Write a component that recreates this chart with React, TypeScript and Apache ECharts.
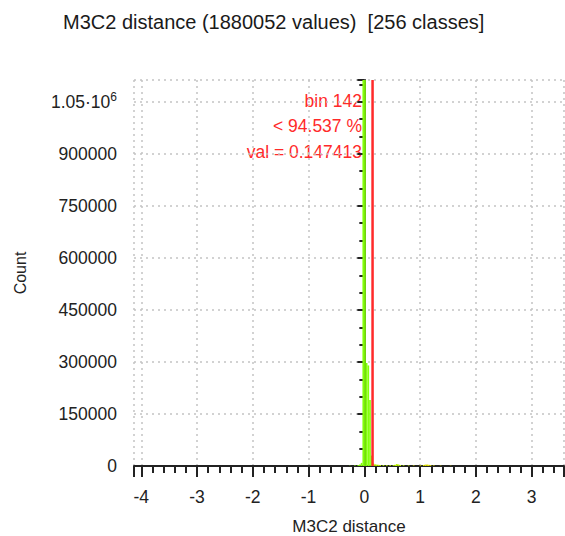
import React, { useEffect, useRef } from "react";
import * as echarts from "echarts";

// Histogram definition
const titleText = "M3C2 distance (1880052 values)  [256 classes]";
const xAxisName = "M3C2 distance";
const yAxisName = "Count";
const histMin = -4.13;
const histMax = 3.58;
const binCount = 256;
const binWidth = (histMax - histMin) / binCount;
const yMax = 1113000;

// Non-empty bins (bin index, count)
const binIndices = [128, 131, 133, 134, 135, 136, 137, 138, 139, 140, 141, 142, 143, 144, 145, 146, 148, 150, 152, 154, 155, 156, 157, 158, 160, 163, 166, 170, 172, 173, 174, 175, 176, 178, 182, 188];
const binCounts = [800, 1200, 2500, 4000, 9000, 1120000, 1180000, 297000, 290000, 190000, 30000, 7000, 5000, 4000, 3500, 3000, 2500, 2200, 2000, 2500, 3500, 5500, 4500, 3000, 2000, 1500, 1500, 2000, 3000, 4000, 4500, 3500, 2500, 1500, 1000, 800];

// Threshold marker
const thresholdBin = 142;
const thresholdPercent = "94.537";
const thresholdVal = 0.147413;

const FONT = "Liberation Sans";

export default function App() {
  const ref = useRef<HTMLDivElement>(null);
  useEffect(() => {
    document.body.style.margin = "0";
    const chart = echarts.init(ref.current!, null, { renderer: "svg" });
    const histData = binIndices.map((b, i) => [histMin + b * binWidth, histMin + (b + 1) * binWidth, binCounts[i], b]);
    chart.setOption({
      animation: false,
      backgroundColor: "#ffffff",
      title: {
        text: titleText,
        left: 58,
        top: 7,
        textStyle: { fontFamily: FONT, fontSize: 20, fontWeight: "normal", color: "#1a1a1a" },
      },
      grid: { left: 134, top: 80, right: 1, bottom: 70, outerBoundsMode: "none", containLabel: false },
      xAxis: {
        type: "value",
        min: histMin,
        max: histMax,
        splitNumber: 8,
        name: xAxisName,
        nameLocation: "middle",
        nameGap: 52,
        nameTextStyle: { fontFamily: FONT, fontSize: 17, color: "#222" },
        axisLine: { show: true, onZero: false, lineStyle: { color: "#222", width: 2 } },
        axisTick: { show: true, length: 11, lineStyle: { color: "#222", width: 2 } },
        minorTick: { show: true, splitNumber: 5, length: 7, lineStyle: { color: "#222", width: 2 } },
        axisLabel: {
          showMinLabel: false,
          showMaxLabel: false,
          margin: 22,
          fontFamily: FONT,
          fontSize: 17.5,
          color: "#222",
        },
        splitLine: { show: true, lineStyle: { color: "#c4c4c4", type: [2, 4], width: 1.5 } },
      },
      yAxis: {
        type: "value",
        min: 0,
        max: yMax,
        interval: 150000,
        name: yAxisName,
        nameLocation: "middle",
        nameGap: 106,
        nameRotate: 90,
        nameTextStyle: { fontFamily: FONT, fontSize: 16, color: "#222" },
        axisLine: { show: true, lineStyle: { color: "#222", width: 2 } },
        axisTick: { show: true, length: 7, lineStyle: { color: "#222", width: 2 } },
        minorTick: { show: true, splitNumber: 3, length: 5, lineStyle: { color: "#222", width: 2 } },
        axisLabel: {
          showMaxLabel: false,
          margin: 17,
          fontFamily: FONT,
          fontSize: 17.5,
          color: "#222",
          formatter: (v: number) => (v === 1050000 ? "{a|1.05·10}{sup|6}" : String(v)),
          rich: {
            a: { fontFamily: FONT, fontSize: 17.5, color: "#222" },
            sup: { fontFamily: FONT, fontSize: 12, color: "#222", padding: [0, 0, 9, 0] },
          },
        },
        splitLine: { show: true, lineStyle: { color: "#c4c4c4", type: [2, 4], width: 1.5 } },
      },
      graphic: [
        { type: "text", x: 362, y: 101, style: { text: `bin ${thresholdBin}`, fill: "#ff2a2a", font: `17.5px "${FONT}"`, textAlign: "right", textVerticalAlign: "middle" } },
        { type: "text", x: 362, y: 126, style: { text: `< ${thresholdPercent} %`, fill: "#ff2a2a", font: `17.5px "${FONT}"`, textAlign: "right", textVerticalAlign: "middle" } },
        { type: "text", x: 362, y: 152, style: { text: `val = ${thresholdVal}`, fill: "#ff2a2a", font: `17.5px "${FONT}"`, textAlign: "right", textVerticalAlign: "middle" } },
      ],
      series: [
        {
          type: "custom",
          data: histData,
          encode: { x: [0, 1], y: 2 },
          renderItem: (params: any, api: any) => {
            const x0 = api.value(0);
            const x1 = api.value(1);
            const c = api.value(2);
            const b = api.value(3);
            const p0 = api.coord([x0, c]);
            const p1 = api.coord([x1, 0]);
            const cs = params.coordSys;
            const shape = echarts.graphic.clipRectByRect(
              { x: p0[0], y: p0[1], width: p1[0] - p0[0], height: p1[1] - p0[1] },
              { x: cs.x, y: cs.y, width: cs.width, height: cs.height }
            );
            if (!shape) return null;
            return {
              type: "rect",
              shape,
              style: { fill: b <= 141 ? "#84ff0a" : b < 165 ? "#b8f000" : "#e0e000" },
            };
          },
          z: 2,
        },
        {
          type: "line",
          data: [
            [thresholdVal, 0],
            [thresholdVal, yMax],
          ],
          symbol: "none",
          lineStyle: { color: "#ff2a2a", width: 2.5 },
          z: 3,
        },
      ],
    });
    return () => chart.dispose();
  }, []);
  return <div ref={ref} style={{ width: 565, height: 536 }} />;
}
